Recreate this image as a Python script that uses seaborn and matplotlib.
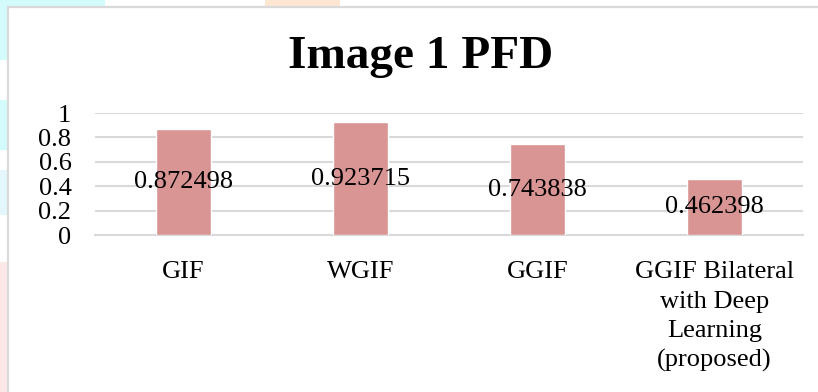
import matplotlib
matplotlib.use("Agg")
import matplotlib.pyplot as plt
import seaborn as sns
import pandas as pd
from matplotlib.patches import Rectangle

categories = ["GIF", "WGIF", "GGIF", "GGIF Bilateral\nwith Deep\nLearning\n(proposed)"]
values = [0.872498, 0.923715, 0.743838, 0.462398]
value_labels = ["0.872498", "0.923715", "0.743838", "0.462398"]
y_ticks = [0, 0.2, 0.4, 0.6, 0.8, 1]
y_tick_labels = ["0", "0.2", "0.4", "0.6", "0.8", "1"]
title = "Image 1 PFD"

sns.set_theme(style="white")
plt.rcParams["font.family"] = ["Liberation Serif", "DejaVu Serif"]

W, H = 818, 392
fig = plt.figure(figsize=(W / 100, H / 100), dpi=100)
fig.patch.set_facecolor("white")

# decorative background patches outside chart frame
def frect(x0, y0, x1, y1, color):
    fig.patches.append(Rectangle((x0 / W, 1 - y1 / H), (x1 - x0) / W, (y1 - y0) / H,
                                 transform=fig.transFigure, color=color, zorder=0, lw=0))

frect(0, 0, 105, 8, "#d4fbfc")
frect(0, 0, 8, 60, "#d4fbfc")
frect(0, 100, 8, 150, "#d4fbfc")
frect(0, 170, 8, 215, "#e2f6fb")
frect(0, 262, 8, 392, "#fde8e8")
frect(265, 0, 340, 8, "#fde6d2")
# frame border
fig.patches.append(Rectangle((8 / W, -0.1), 1.0, 1 - 7 / H + 0.1, transform=fig.transFigure,
                             fill=True, facecolor="white", edgecolor="#d9d9d9", lw=1.6, zorder=1))

ax = fig.add_axes([95 / W, 1 - 235 / H, 708 / W, 122 / H])
ax.set_zorder(2)
df = pd.DataFrame({"cat": categories, "val": values})
sns.barplot(data=df, x="cat", y="val", ax=ax, color="#d99594", saturation=1, width=0.316, zorder=3)
ax.set_ylim(0, 1)
ax.set_xlim(-0.5, len(categories) - 0.5)
ax.set_yticks(y_ticks)
ax.set_yticklabels(y_tick_labels)
ax.yaxis.grid(True, color="#d9d9d9", lw=1.5, zorder=0)
ax.set_axisbelow(True)
for s in ["top", "right", "left"]:
    ax.spines[s].set_visible(False)
ax.spines["bottom"].set_color("#d9d9d9")
ax.spines["bottom"].set_linewidth(1.5)
ax.set_facecolor("none")
ax.set_xlabel("")
ax.set_ylabel("")
ax.tick_params(axis="y", length=0, pad=17, labelsize=19, labelcolor="black")
ax.tick_params(axis="x", length=0, pad=19, labelsize=19, labelcolor="black")
for lab in ax.get_xticklabels():
    lab.set_linespacing(1.42)

for i, (v, t) in enumerate(zip(values, value_labels)):
    ax.text(i, v / 2, t, ha="center", va="center", fontsize=19, color="black", zorder=4)

fig.text(421 / W, 1 - 57 / H, title, ha="center", va="center", fontsize=34, fontweight="bold",
         color="black")

fig.savefig("out.png", dpi=100)
